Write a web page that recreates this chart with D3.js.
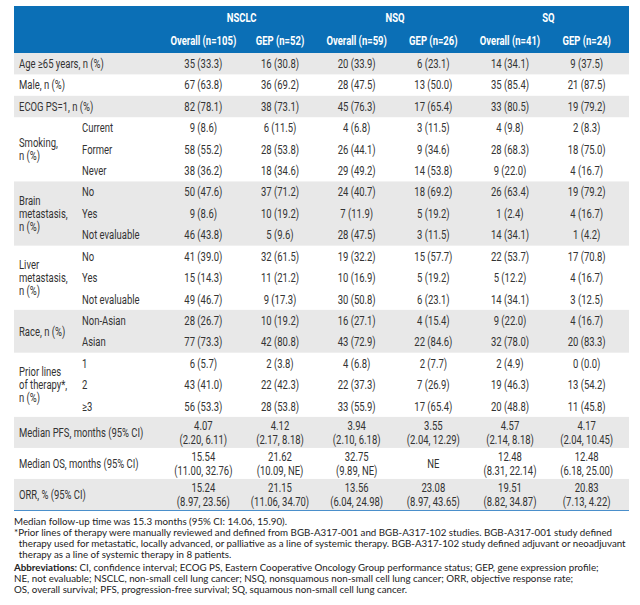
<!DOCTYPE html>
<html><head><meta charset="utf-8">
<script src="https://cdn.jsdelivr.net/npm/d3@7"></script>
<style>body{margin:0;background:#fff}svg{display:block}</style>
</head><body><svg id="c" width="640" height="605"></svg>
<script>
const groups = ["NSCLC", "NSQ", "SQ"];
const columns = ["Overall (n=105)", "GEP (n=52)", "Overall (n=59)", "GEP (n=26)", "Overall (n=41)", "GEP (n=24)"];
const sectionLabels = [
  ["Age \u226565 years, n (%)"], ["Male, n (%)"], ["ECOG PS=1, n (%)"],
  ["Smoking,", "n (%)"], ["Brain", "metastasis,", "n (%)"], ["Liver", "metastasis,", "n (%)"],
  ["Race, n (%)"], ["Prior lines", "of therapy*,", "n (%)"],
  ["Median PFS, months (95% CI)"], ["Median OS, months (95% CI)"], ["ORR, % (95% CI)"]
];
const subLabels = [
  [""], [""], [""], ["Current", "Former", "Never"], ["No", "Yes", "Not evaluable"],
  ["No", "Yes", "Not evaluable"], ["Non-Asian", "Asian"], ["1", "2", "\u22653"], [""], [""], [""]
];
const age = [["35 (33.3)", "16 (30.8)", "20 (33.9)", "6 (23.1)", "14 (34.1)", "9 (37.5)"]];
const male = [["67 (63.8)", "36 (69.2)", "28 (47.5)", "13 (50.0)", "35 (85.4)", "21 (87.5)"]];
const ecog = [["82 (78.1)", "38 (73.1)", "45 (76.3)", "17 (65.4)", "33 (80.5)", "19 (79.2)"]];
const smoking = [
  ["9 (8.6)", "6 (11.5)", "4 (6.8)", "3 (11.5)", "4 (9.8)", "2 (8.3)"],
  ["58 (55.2)", "28 (53.8)", "26 (44.1)", "9 (34.6)", "28 (68.3)", "18 (75.0)"],
  ["38 (36.2)", "18 (34.6)", "29 (49.2)", "14 (53.8)", "9 (22.0)", "4 (16.7)"]
];
const brain = [
  ["50 (47.6)", "37 (71.2)", "24 (40.7)", "18 (69.2)", "26 (63.4)", "19 (79.2)"],
  ["9 (8.6)", "10 (19.2)", "7 (11.9)", "5 (19.2)", "1 (2.4)", "4 (16.7)"],
  ["46 (43.8)", "5 (9.6)", "28 (47.5)", "3 (11.5)", "14 (34.1)", "1 (4.2)"]
];
const liver = [
  ["41 (39.0)", "32 (61.5)", "19 (32.2)", "15 (57.7)", "22 (53.7)", "17 (70.8)"],
  ["15 (14.3)", "11 (21.2)", "10 (16.9)", "5 (19.2)", "5 (12.2)", "4 (16.7)"],
  ["49 (46.7)", "9 (17.3)", "30 (50.8)", "6 (23.1)", "14 (34.1)", "3 (12.5)"]
];
const race = [
  ["28 (26.7)", "10 (19.2)", "16 (27.1)", "4 (15.4)", "9 (22.0)", "4 (16.7)"],
  ["77 (73.3)", "42 (80.8)", "43 (72.9)", "22 (84.6)", "32 (78.0)", "20 (83.3)"]
];
const priorLines = [
  ["6 (5.7)", "2 (3.8)", "4 (6.8)", "2 (7.7)", "2 (4.9)", "0 (0.0)"],
  ["43 (41.0)", "22 (42.3)", "22 (37.3)", "7 (26.9)", "19 (46.3)", "13 (54.2)"],
  ["56 (53.3)", "28 (53.8)", "33 (55.9)", "17 (65.4)", "20 (48.8)", "11 (45.8)"]
];
const pfs = [["4.07\n(2.20, 6.11)", "4.12\n(2.17, 8.18)", "3.94\n(2.10, 6.18)", "3.55\n(2.04, 12.29)", "4.57\n(2.14, 8.18)", "4.17\n(2.04, 10.45)"]];
const os = [["15.54\n(11.00, 32.76)", "21.62\n(10.09, NE)", "32.75\n(9.89, NE)", "NE", "12.48\n(8.31, 22.14)", "12.48\n(6.18, 25.00)"]];
const orr = [["15.24\n(8.97, 23.56)", "21.15\n(11.06, 34.70)", "13.56\n(6.04, 24.98)", "23.08\n(8.97, 43.65)", "19.51\n(8.82, 34.87)", "20.83\n(7.13, 4.22)"]];
const sectionValues = [age, male, ecog, smoking, brain, liver, race, priorLines, pfs, os, orr];
const footnotes = [
  ["", "Median follow-up time was 15.3 months (95% CI: 14.06, 15.90)."],
  ["", "*Prior lines of therapy were manually reviewed and defined from BGB-A317-001 and BGB-A317-102 studies. BGB-A317-001 study defined"],
  ["", "\u2002therapy used for metastatic, locally advanced, or palliative as a line of systemic therapy. BGB-A317-102 study defined adjuvant or neoadjuvant"],
  ["", "\u2002therapy as a line of systemic therapy in 8 patients."],
  ["Abbreviations:", " CI, confidence interval; ECOG PS, Eastern Cooperative Oncology Group performance status; GEP, gene expression profile;"],
  ["", "NE, not evaluable; NSCLC, non-small cell lung cancer; NSQ, nonsquamous non-small cell lung cancer; ORR, objective response rate;"],
  ["", "OS, overall survival; PFS, progression-free survival; SQ, squamous non-small cell lung cancer."]
];

const svg = d3.select("#c");
const tableFont = "Roboto,'Liberation Sans',sans-serif";
const noteFont = "Lato,'Open Sans',sans-serif";
const left = 14, right = 629, headTop = 6, headBottom = 53, tableBottom = 510;
const blue = "#0b6fb6", gray = "#e8e8e8", ink = "#333333";
const FS = 12.4, SX = 0.765;

function txt(x0, y0, s, anchor, color, bold) {
  return svg.append("text")
    .attr("transform", `translate(${x0},${y0}) scale(${SX},1)`)
    .attr("dy", "0.35em").attr("text-anchor", anchor || "start")
    .attr("fill", color || ink).attr("font-weight", bold ? "bold" : "normal")
    .attr("font-family", tableFont).attr("font-size", FS).text(s);
}

// rows
const rows = [];
let acc = 0;
const ranges = [];
sectionValues.forEach((sv, s) => {
  const start = acc;
  sv.forEach((vals, i) => {
    const u = vals.some(v => v.includes("\n")) ? 1.45 : 1;
    rows.push({s, i, start: acc, units: u, vals, sub: subLabels[s][i]});
    acc += u;
  });
  ranges[s] = [start, acc];
});
const y = d3.scaleLinear().domain([0, acc]).range([headBottom, tableBottom]);
const x = d3.scaleBand().domain(columns).range([165, 625]);
const xc = c => x(c) + x.bandwidth() / 2;

// header
svg.append("rect").attr("x", left).attr("y", headTop).attr("width", right - left).attr("height", headBottom - headTop).attr("fill", blue);
groups.forEach((g, i) => txt((xc(columns[i * 2]) + xc(columns[i * 2 + 1])) / 2, 18, g, "middle", "#fff", true));
columns.forEach(c => txt(xc(c), 41, c, "middle", "#fff", true));

// bands
ranges.forEach((r, s) => {
  if (s % 2 === 0) {
    svg.insert("rect", "text").attr("x", left).attr("width", right - left)
      .attr("y", y(r[0])).attr("height", y(r[1]) - y(r[0])).attr("fill", gray);
  }
});

// section labels
sectionLabels.forEach((lines, s) => {
  const r = ranges[s];
  const cy = (y(r[0]) + y(r[1])) / 2;
  lines.forEach((t, k) => txt(19, cy + (k - (lines.length - 1) / 2) * 13.3, t));
});

// sub labels and values
rows.forEach(r => {
  const cy = (y(r.start) + y(r.start + r.units)) / 2;
  if (r.sub) txt(82, cy, r.sub);
  r.vals.forEach((v, j) => {
    const lines = v.split("\n");
    lines.forEach((t, k) => txt(xc(columns[j]), cy + (k - (lines.length - 1) / 2) * 14, t, "middle"));
  });
});

svg.append("line").attr("x1", left).attr("x2", right).attr("y1", tableBottom + 0.5).attr("y2", tableBottom + 0.5)
  .attr("stroke", "#4a8fcb").attr("stroke-width", 1);

// footnotes
const noteY = [522, 533, 544, 555, 568, 579, 590];
footnotes.forEach((f, i) => {
  const t = svg.append("text").attr("x", 14).attr("y", noteY[i]).attr("dy", "0.35em")
    .attr("fill", "#222").attr("font-family", noteFont).attr("font-size", 9.75);
  f.forEach((part, k) => {
    if (part) t.append("tspan").attr("font-weight", k === 0 ? "bold" : "normal").text(part);
  });
});
</script></body></html>
